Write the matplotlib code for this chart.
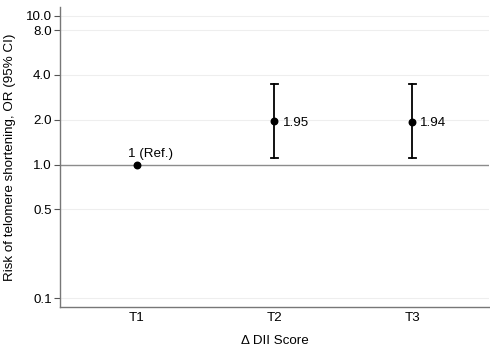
import numpy as np
import matplotlib
matplotlib.use("Agg")
import matplotlib.pyplot as plt

plt.rcParams['font.family'] = ['Liberation Sans', 'DejaVu Sans']

# Data
groups = ['T1', 'T2', 'T3']
odds_ratio = [1.0, 1.95, 1.94]
ci_low = [np.nan, 1.10, 1.10]
ci_high = [np.nan, 3.46, 3.45]
point_labels = ['1 (Ref.)', '1.95', '1.94']

# y ticks (the 0.1 tick sits where the original figure drew it)
ytick_pos = [0.127, 0.5, 1.0, 2.0, 4.0, 8.0, 10.0]
ytick_labels = ['0.1', '0.5', '1.0', '2.0', '4.0', '8.0', '10.0']

FS = 9.6

fig = plt.figure(figsize=(4.9, 3.55), dpi=100)
ax = fig.add_axes([0.1224, 0.136, 0.876, 0.844])

x = np.arange(1, len(groups) + 1)

ax.set_yscale('log')
ax.set_ylim(0.111, 11.4)
ax.set_xlim(0.444, 3.56)

# light gridlines and the reference line at OR = 1
for yv in ytick_pos:
    if yv != 1.0:
        ax.axhline(yv, color='#eeeeee', lw=0.8, zorder=0)
ax.axhline(1.0, color='#8c8c8c', lw=1.0, zorder=1)

# confidence intervals
for xi, lo, hi in zip(x, ci_low, ci_high):
    if np.isnan(lo):
        continue
    ax.plot([xi, xi], [lo, hi], color='black', lw=1.3, zorder=2)
    for yv in (lo, hi):
        ax.plot([xi - 0.025, xi + 0.025], [yv, yv], color='black', lw=1.3, zorder=2)

ax.scatter(x, odds_ratio, s=22, color='black', zorder=3)

# value labels
ax.annotate(point_labels[0], (x[0], odds_ratio[0]), xytext=(-6, 3),
            textcoords='offset points', ha='left', va='bottom', fontsize=FS)
for xi, yv, lab in zip(x[1:], odds_ratio[1:], point_labels[1:]):
    ax.annotate(lab, (xi, yv), xytext=(6, -1), textcoords='offset points',
                ha='left', va='center', fontsize=FS)

ax.minorticks_off()
ax.set_yticks(ytick_pos)
ax.set_yticklabels(ytick_labels)
ax.set_xticks(x)
ax.set_xticklabels(groups)
ax.tick_params(axis='y', length=4, width=0.8, color='#555555', labelsize=FS, pad=2)
ax.tick_params(axis='x', length=0, labelsize=FS, pad=4)

for side in ('top', 'right'):
    ax.spines[side].set_visible(False)
for side in ('left', 'bottom'):
    ax.spines[side].set_color('#777777')
    ax.spines[side].set_linewidth(1.0)

ax.set_ylabel('Risk of telomere shortening, OR (95% CI)', fontsize=FS, labelpad=7)
ax.set_xlabel('\u0394 DII Score', fontsize=FS, labelpad=8)

fig.savefig('out.png', dpi=100)
